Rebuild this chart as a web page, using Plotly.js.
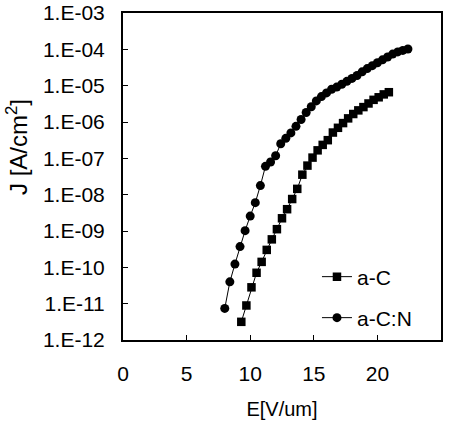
<!DOCTYPE html>
<html>
<head>
<meta charset="utf-8">
<script src="https://cdn.plot.ly/plotly-3.0.1.min.js"></script>
<style>html,body{margin:0;padding:0;background:#fff;}#chart{width:451px;height:421px;}</style>
</head>
<body>
<div id="chart"></div>
<script>
// a-C (squares)
const aC_E = [9.3, 9.7, 10.1, 10.5, 10.9, 11.3, 11.7, 12.1, 12.5, 12.9, 13.3, 13.7, 14.1, 14.5, 14.9, 15.3, 15.7, 16.1, 16.5, 16.9, 17.3, 17.7, 18.1, 18.5, 18.9, 19.3, 19.7, 20.1, 20.5, 20.9];
const aC_logJ = [-11.5, -11.05, -10.55, -10.15, -9.85, -9.52, -9.23, -8.95, -8.65, -8.40, -8.12, -7.84, -7.45, -7.20, -6.98, -6.78, -6.63, -6.50, -6.29, -6.16, -6.03, -5.90, -5.78, -5.68, -5.59, -5.49, -5.39, -5.32, -5.24, -5.18];
// a-C:N (circles)
const aCN_E = [8.0, 8.4, 8.8, 9.2, 9.6, 10.0, 10.4, 10.8, 11.2, 11.6, 12.0, 12.4, 12.8, 13.2, 13.6, 14.0, 14.4, 14.8, 15.2, 15.6, 16.0, 16.4, 16.8, 17.2, 17.6, 18.0, 18.4, 18.8, 19.2, 19.6, 20.0, 20.4, 20.8, 21.2, 21.6, 22.0, 22.4];
const aCN_logJ = [-11.13, -10.40, -9.91, -9.43, -8.99, -8.59, -8.22, -7.75, -7.22, -7.10, -6.93, -6.60, -6.45, -6.30, -6.12, -5.93, -5.74, -5.58, -5.42, -5.30, -5.20, -5.10, -5.04, -4.96, -4.88, -4.80, -4.72, -4.62, -4.53, -4.45, -4.37, -4.29, -4.21, -4.13, -4.07, -4.03, -3.99];

const yTickVals = [1e-3, 1e-4, 1e-5, 1e-6, 1e-7, 1e-8, 1e-9, 1e-10, 1e-11, 1e-12];
const yTickText = ["1.E-03", "1.E-04", "1.E-05", "1.E-06", "1.E-07", "1.E-08", "1.E-09", "1.E-10", "1.E-11", "1.E-12"];
const xTickVals = [0, 5, 10, 15, 20, 25];

const toJ = a => a.map(v => Math.pow(10, v));
const FONT = "Liberation Sans, Arial, sans-serif";

const traces = [
  {
    x: aC_E, y: toJ(aC_logJ), name: "a-C", type: "scatter", mode: "lines+markers",
    line: {color: "#000", width: 1},
    marker: {symbol: "square", size: 8.5, color: "#000"},
    legend: "legend"
  },
  {
    x: aCN_E, y: toJ(aCN_logJ), name: "a-C:N", type: "scatter", mode: "lines+markers",
    line: {color: "#000", width: 1},
    marker: {symbol: "circle", size: 9, color: "#000"},
    legend: "legend2"
  }
];

const legendBase = {
  font: {family: FONT, size: 21, color: "#000"},
  bgcolor: "rgba(0,0,0,0)", borderwidth: 0,
  xref: "paper", yref: "paper", xanchor: "left", yanchor: "middle",
  itemwidth: 30, tracegroupgap: 0
};

const layout = {
  width: 451, height: 421,
  margin: {l: 123, r: 10, t: 13, b: 81},
  paper_bgcolor: "#fff", plot_bgcolor: "#fff",
  font: {family: FONT, size: 21, color: "#000"},
  showlegend: true,
  legend: Object.assign({}, legendBase, {x: 0.61, y: (340 - 277) / 327}),
  legend2: Object.assign({}, legendBase, {x: 0.61, y: (340 - 318) / 327}),
  xaxis: {
    range: [0, 25], tickvals: xTickVals, ticks: "inside", ticklen: 5, tickwidth: 1, tickcolor: "#000",
    showline: true, linecolor: "#000", linewidth: 2, mirror: true, showgrid: false, zeroline: false,
    tickfont: {family: FONT, size: 21, color: "#000"}, ticklabelstandoff: 14,
    title: {text: "E[V/um]", font: {family: FONT, size: 20, color: "#000"}, standoff: 18}
  },
  yaxis: {
    type: "log", range: [-12, -3], tickvals: yTickVals, ticktext: yTickText,
    ticks: "inside", ticklen: 5, tickwidth: 1, tickcolor: "#000",
    showline: true, linecolor: "#000", linewidth: 2, mirror: true, showgrid: false, zeroline: false,
    tickfont: {family: FONT, size: 21, color: "#000"}, ticklabelstandoff: 12
  },
  annotations: [{
    text: "J [A/cm<sup>2</sup>]", textangle: -90, showarrow: false,
    xref: "paper", yref: "paper", x: (17 - 123) / 318, y: (340 - 147) / 327,
    xanchor: "center", yanchor: "middle",
    font: {family: FONT, size: 24, color: "#000"}
  }]
};

Plotly.newPlot("chart", traces, layout, {staticPlot: true, displayModeBar: false});
</script>
</body>
</html>
